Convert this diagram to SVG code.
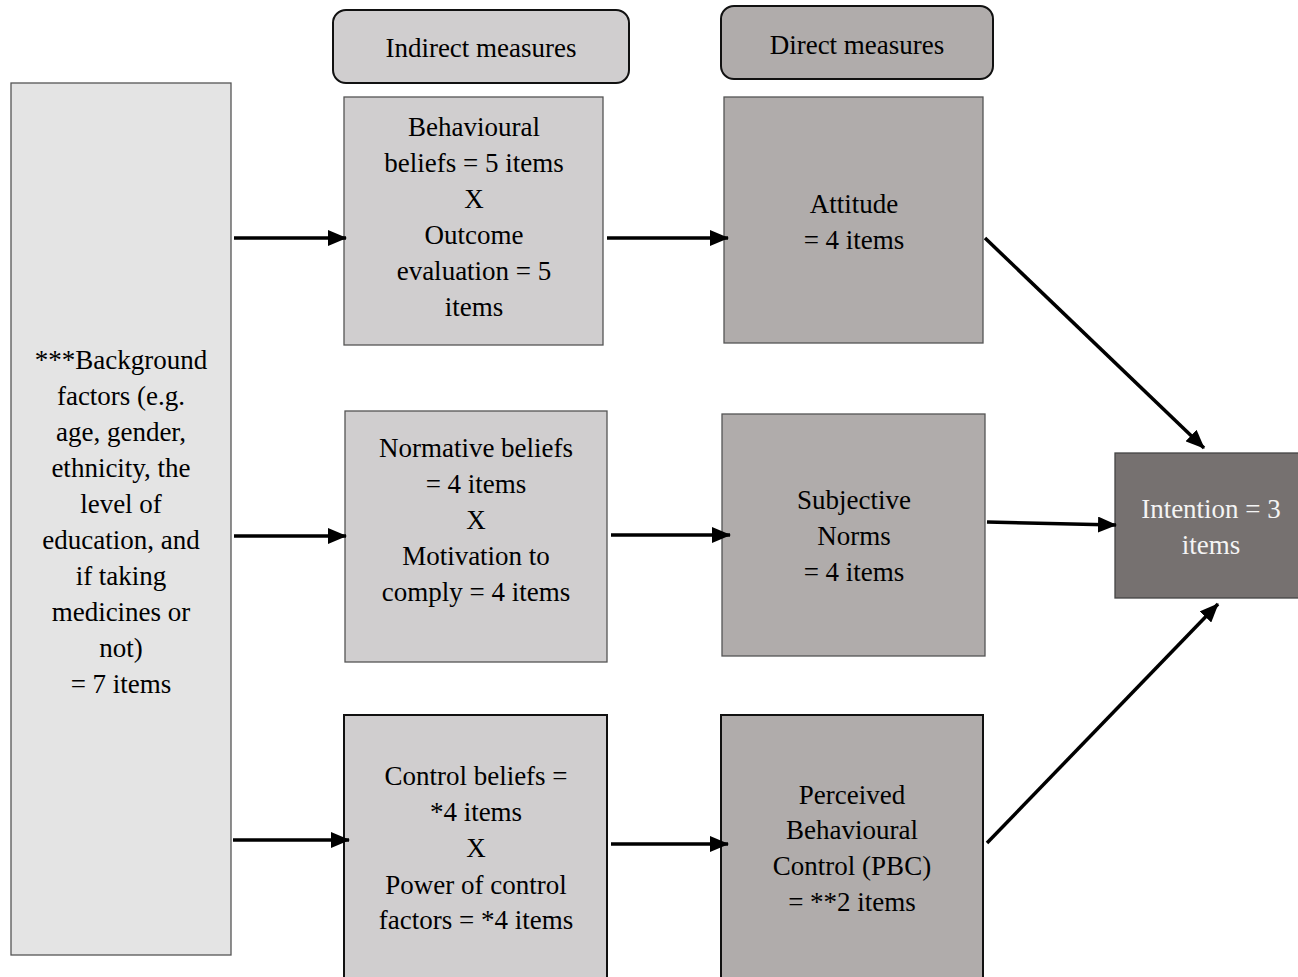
<svg xmlns="http://www.w3.org/2000/svg" width="1298" height="977" viewBox="0 0 1298 977">
<style>
text{font-family:"Liberation Serif","Times New Roman",serif;font-size:27px;fill:#000;text-anchor:middle}
.bg{fill:#e4e4e4;stroke:#555;stroke-width:1.3}
.ind{fill:#d0cecf;stroke:#555;stroke-width:1.3}
.dir{fill:#b0acab;stroke:#555;stroke-width:1.3}
.ind3{fill:#d0cecf;stroke:#111;stroke-width:2}
.dir3{fill:#b0acab;stroke:#111;stroke-width:2}
.hi{fill:#d0cecf;stroke:#111;stroke-width:2}
.hd{fill:#b0acab;stroke:#111;stroke-width:2}
.int{fill:#767170;stroke:#444;stroke-width:1.3}
.wt{fill:#f4f4f4}
.c{stroke:#000;stroke-width:3.5;fill:none;marker-end:url(#ah)}
</style>
<defs>
<marker id="ah" markerUnits="userSpaceOnUse" markerWidth="20" markerHeight="16" refX="18" refY="8" orient="auto">
<path d="M0,0 L19,8 L0,16 Z" fill="#000"/>
</marker>
</defs>
<rect width="1298" height="977" fill="#fff"/>
<g id="header-indirect">
<rect class="hi" x="333" y="10" width="296" height="73" rx="13"/>
<text x="481" y="57">Indirect measures</text>
</g>
<g id="header-direct">
<rect class="hd" x="721" y="6" width="272" height="73" rx="13"/>
<text x="857" y="54">Direct measures</text>
</g>
<g id="background">
<rect class="bg" x="11" y="83" width="220" height="872"/>
<text x="121" y="369">***Background</text>
<text x="121" y="405">factors (e.g.</text>
<text x="121" y="441">age, gender,</text>
<text x="121" y="477">ethnicity, the</text>
<text x="121" y="513">level of</text>
<text x="121" y="549">education, and</text>
<text x="121" y="585">if taking</text>
<text x="121" y="621">medicines or</text>
<text x="121" y="657">not)</text>
<text x="121" y="693">= 7 items</text>
</g>
<g id="behavioural-beliefs">
<rect class="ind" x="344" y="97" width="259" height="248"/>
<text x="474" y="136">Behavioural</text>
<text x="474" y="172">beliefs = 5 items</text>
<text x="474" y="208">X</text>
<text x="474" y="244">Outcome</text>
<text x="474" y="280">evaluation = 5</text>
<text x="474" y="316">items</text>
</g>
<g id="attitude">
<rect class="dir" x="724" y="97" width="259" height="246"/>
<text x="854" y="213">Attitude</text>
<text x="854" y="249">= 4 items</text>
</g>
<g id="normative-beliefs">
<rect class="ind" x="345" y="411" width="262" height="251"/>
<text x="476" y="457">Normative beliefs</text>
<text x="476" y="493">= 4 items</text>
<text x="476" y="529">X</text>
<text x="476" y="565">Motivation to</text>
<text x="476" y="601">comply = 4 items</text>
</g>
<g id="subjective-norms">
<rect class="dir" x="722" y="414" width="263" height="242"/>
<text x="854" y="509">Subjective</text>
<text x="854" y="545">Norms</text>
<text x="854" y="581">= 4 items</text>
</g>
<g id="control-beliefs">
<rect class="ind3" x="344" y="715" width="263" height="270"/>
<text x="476" y="785">Control beliefs =</text>
<text x="476" y="821">*4 items</text>
<text x="476" y="857">X</text>
<text x="476" y="894">Power of control</text>
<text x="476" y="929">factors = *4 items</text>
</g>
<g id="pbc">
<rect class="dir3" x="721" y="715" width="262" height="270"/>
<text x="852" y="804">Perceived</text>
<text x="852" y="839">Behavioural</text>
<text x="852" y="875">Control (PBC)</text>
<text x="852" y="911">= **2 items</text>
</g>
<g id="intention">
<rect class="int" x="1115" y="453" width="190" height="145"/>
<text class="wt" x="1211" y="518">Intention = 3</text>
<text class="wt" x="1211" y="554">items</text>
</g>
<g id="connectors">
<line class="c" x1="234" y1="238" x2="346" y2="238"/>
<line class="c" x1="234" y1="536" x2="346" y2="536"/>
<line class="c" x1="233" y1="840" x2="349" y2="840"/>
<line class="c" x1="607" y1="238" x2="728" y2="238"/>
<line class="c" x1="611" y1="535" x2="730" y2="535"/>
<line class="c" x1="611" y1="844" x2="728" y2="844"/>
<line class="c" x1="985" y1="238" x2="1204" y2="448"/>
<line class="c" x1="987" y1="522" x2="1116" y2="525"/>
<line class="c" x1="987" y1="843" x2="1218" y2="604"/>
</g>
</svg>
